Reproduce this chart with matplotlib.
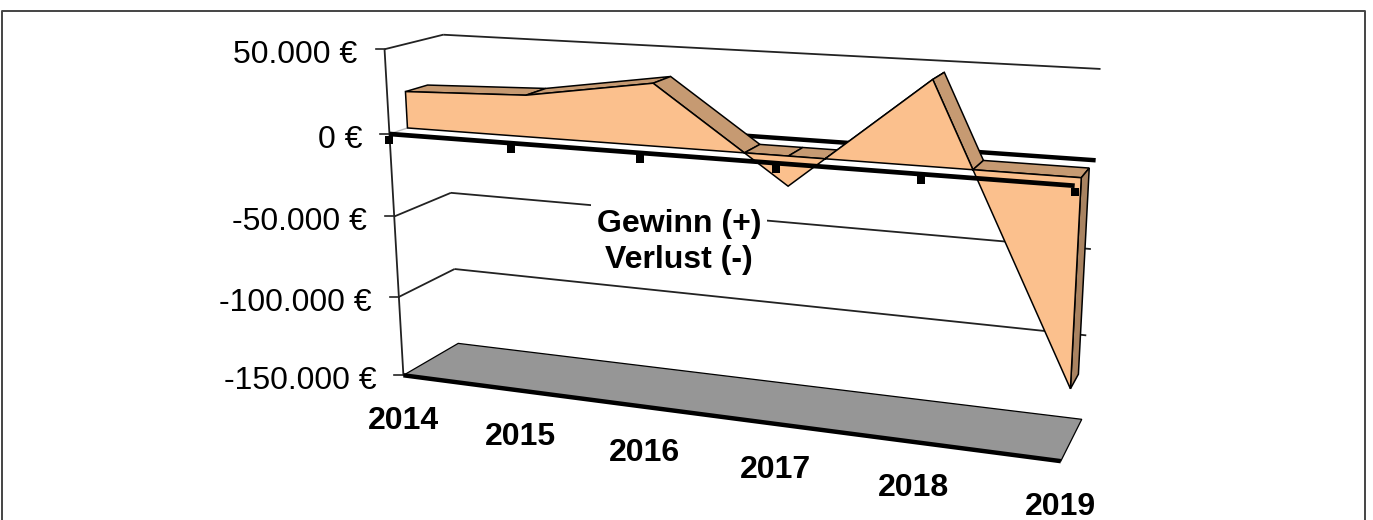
import numpy as np
import matplotlib
matplotlib.use('Agg')
import matplotlib.pyplot as plt

plt.rcParams['font.family'] = ['Liberation Sans', 'DejaVu Sans']

# Daten
years = ['2014', '2015', '2016', '2017', '2018', '2019']
profit = [22000, 24500, 36000, -17000, 47000, -116000]
y_ticks = [50000, 0, -50000, -100000, -150000]
y_labels = ['50.000 €', '0 €', '-50.000 €', '-100.000 €', '-150.000 €']
axis_title = 'Gewinn (+)\nVerlust (-)'

# Farben
FACE = '#FBC08D'
ROOF = '#C69A72'
SIDE = '#A98361'
FLOOR = '#969696'
DARK = '#222222'

# Lage der Flaeche in der Tiefe des Diagramms
D_FRONT, D_BACK = 0.30, 0.68

# Kalibrierung der 3D-Ansicht: (Jahr-Index, Wert, Tiefe) -> Pixel im Bild
camera_world = [
    (0, 50000, 0), (0, 0, 0), (0, -50000, 0), (0, -100000, 0), (0, -150000, 0),
    (0, 50000, 1), (0, -50000, 1), (0, -100000, 1), (0, -150000, 1),
    (5, 50000, 1), (5, 0, 1), (5, -50000, 1), (5, -100000, 1), (5, -150000, 1),
    (5, 0, 0), (5, -150000, 0), (1, 0, 0), (2, 0, 0), (3, 0, 0), (4, 0, 0),
]
camera_pixel = [
    (385, 49), (390, 134), (394, 217), (399, 297), (403, 376),
    (443, 34), (451, 193), (455, 269), (458, 343),
    (1100, 69), (1097, 161), (1091, 249), (1086, 336), (1081, 419),
    (1075, 186), (1062, 460), (511, 143), (640, 153), (775, 163), (920, 174),
]


def fit_camera(world, pixel):
    rows, rhs = [], []
    for (x, v, d), (px, py) in zip(world, pixel):
        w = v / 50000
        rows.append([x, w, d, 1, 0, 0, 0, 0, -px * x, -px * w, -px * d])
        rows.append([0, 0, 0, 0, x, w, d, 1, -py * x, -py * w, -py * d])
        rhs += [px, py]
    sol = np.linalg.lstsq(np.array(rows, float), np.array(rhs, float), rcond=None)[0]
    return np.append(sol, 1.0).reshape(3, 4)


CAM = fit_camera(camera_world, camera_pixel)


def project(x, v, d):
    p = CAM @ np.array([x, v / 50000, d, 1.0])
    return p[0] / p[2], p[1] / p[2]


def poly(ax, pts, color, z, lw=1.1):
    xy = [project(*p) for p in pts]
    ax.fill(*zip(*xy), facecolor=color, edgecolor='black', linewidth=lw,
            joinstyle='miter', zorder=z)


def line(ax, a, b, color=DARK, lw=1.3, z=2):
    (x0, y0), (x1, y1) = project(*a), project(*b)
    ax.plot([x0, x1], [y0, y1], color=color, lw=lw, zorder=z, solid_capstyle='butt')


fig = plt.figure(figsize=(13.73, 5.2), dpi=100)
ax = fig.add_axes([0, 0, 1, 1])
ax.set_xlim(0, 1373)
ax.set_ylim(520, 0)
ax.axis('off')

# Rahmen
ax.plot([2, 2, 1365, 1365], [520, 11, 11, 520], color='#444444', lw=1.4, zorder=1)

# Boden
lo, hi = y_ticks[-1], y_ticks[0]
poly(ax, [(0, lo, 0), (5, lo, 0), (5, lo, 1), (0, lo, 1)], FLOOR, 2, lw=0.9)
line(ax, (0, lo, 0), (5, lo, 0), color='black', lw=3.2, z=3)

# Gitterlinien, Wand
for t in y_ticks:
    if t == 0:
        line(ax, (0, t, 0), (0, t, 1), color='#BBBBBB', lw=1.0)
        line(ax, (0, t, 1), (5, t, 1), color='black', lw=3.2)
    elif t != lo:
        line(ax, (0, t, 0), (0, t, 1))
        line(ax, (0, t, 1), (5, t, 1))
    px, py = project(0, t, 0)
    ax.plot([px - 9, px], [py, py], color=DARK, lw=1.2, zorder=2)
line(ax, (0, hi, 0), (0, lo, 0))

# Dach der Flaeche: Stuecke zwischen Jahren und Nulldurchgaengen
verts = []
for i, v in enumerate(profit):
    verts.append((i, v))
    if i < 5 and v * profit[i + 1] < 0:
        verts.append((i + v / (v - profit[i + 1]), 0))

for (x0, v0), (x1, v1) in zip(verts[:-1], verts[1:]):
    t0, t1 = max(v0, 0), max(v1, 0)
    poly(ax, [(x0, t0, D_FRONT), (x1, t1, D_FRONT), (x1, t1, D_BACK), (x0, t0, D_BACK)], ROOF, 4)

# Seite rechts
poly(ax, [(5, 0, D_FRONT), (5, profit[-1], D_FRONT), (5, profit[-1], D_BACK), (5, 0, D_BACK)], SIDE, 5)

# Vorderseite
front = [(0, 0, D_FRONT)] + [(x, v, D_FRONT) for x, v in verts] + [(5, 0, D_FRONT)]
poly(ax, front, FACE, 6)

# Null-Linie vorn mit Teilstrichen
line(ax, (0, 0, 0), (5, 0, 0), color='black', lw=3.4, z=7)
for i in range(len(years)):
    px, py = project(i, 0, 0)
    ax.plot(px, py + 6, marker='s', ms=6, color='black', mew=0, zorder=7)

# Beschriftung
for t, lab in zip(y_ticks, y_labels):
    px, py = project(0, t, 0)
    ax.text(px - 27, py + 6, lab, fontsize=23, ha='right', va='center', color='black', zorder=8)
for i, lab in enumerate(years):
    px, py = project(i, lo, 0)
    ax.text(px, py + 46, lab, fontsize=23, fontweight='bold', ha='center', va='center', zorder=8)
ax.text(679, 242, axis_title, fontsize=23, fontweight='bold', ha='center', va='center',
        linespacing=1.25, zorder=8, bbox=dict(facecolor='white', edgecolor='none', pad=4))

fig.savefig('out.png', dpi=100)
